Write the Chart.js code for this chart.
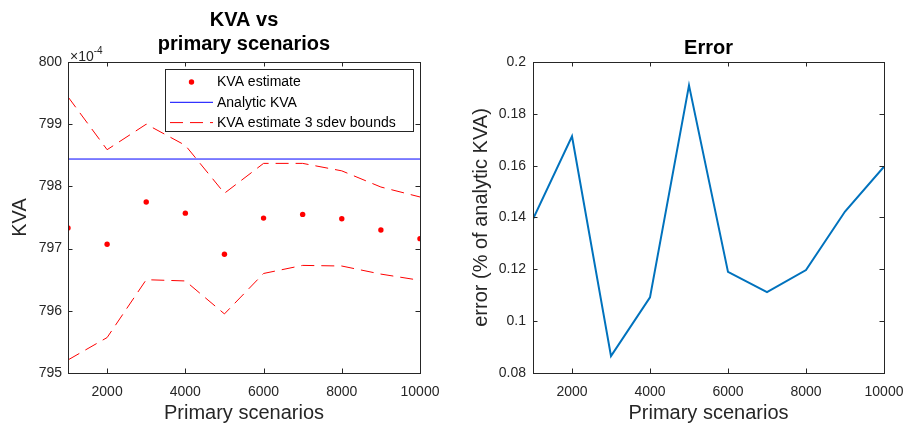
<!DOCTYPE html>
<html>
<head>
<meta charset="utf-8">
<title>KVA vs primary scenarios</title>
<script src="https://cdn.jsdelivr.net/npm/chart.js@4.4.0/dist/chart.umd.min.js"></script>
<style>
    html, body { margin: 0; padding: 0; background: #fff; }
    #wrap { position: relative; width: 905px; height: 427px; overflow: hidden; }
    .panel { position: absolute; top: 0; }
</style>
</head>
<body>
<div id="wrap">
    <div class="panel" style="left:0"><canvas id="kvaChart" width="450" height="427"></canvas></div>
    <div class="panel" style="left:450px"><canvas id="errChart" width="455" height="427"></canvas></div>
</div>
<script>
// --- data (left axis values are shown in units of 1e-4) ---
const scenarios   = [1000, 2000, 3000, 4000, 5000, 6000, 7000, 8000, 9000, 10000];
const kvaEstimate = [797.33, 797.07, 797.75, 797.57, 796.91, 797.49, 797.55, 797.48, 797.30, 797.16];
const kvaUpper    = [799.44, 798.59, 799.00, 798.66, 797.89, 798.37, 798.37, 798.25, 797.99, 797.83];
const kvaLower    = [795.21, 795.57, 796.50, 796.48, 795.95, 796.60, 796.73, 796.72, 796.59, 796.49];
const analyticKva = 798.44;
const errorPct    = [0.1394, 0.1713, 0.0865, 0.1092, 0.1910, 0.1190, 0.1112, 0.1197, 0.1423, 0.1596];

const xTickVals   = [2000, 4000, 6000, 8000, 10000];
const kvaTickVals = [795, 796, 797, 798, 799, 800];
const errTickVals = [0.08, 0.1, 0.12, 0.14, 0.16, 0.18, 0.2];

const AXIS = '#262626';
const FONT = "'Liberation Sans', Arial, Helvetica, sans-serif";
const DASH = [13, 7];
Chart.defaults.font.family = FONT;
Chart.defaults.color = AXIS;

const pts = (ys) => scenarios.map((x, i) => ({ x: x, y: ys[i] }));
const setTicks = (vals) => (scale) => { scale.ticks = vals.map(v => ({ value: v })); };

// MATLAB style box with inward ticks on all four sides
const matlabBox = {
    id: 'matlabBox',
    afterDatasetsDraw(chart) {
        const { ctx, chartArea: a, scales } = chart;
        const TL = 4.5;
        ctx.save();
        ctx.strokeStyle = AXIS;
        ctx.lineWidth = 1;
        ctx.beginPath();
        scales.x.ticks.forEach(t => {
            const px = Math.round(scales.x.getPixelForValue(t.value)) + 0.5;
            ctx.moveTo(px, a.bottom); ctx.lineTo(px, a.bottom - TL);
            ctx.moveTo(px, a.top); ctx.lineTo(px, a.top + TL);
        });
        scales.y.ticks.forEach(t => {
            const py = Math.round(scales.y.getPixelForValue(t.value)) + 0.5;
            ctx.moveTo(a.left, py); ctx.lineTo(a.left + TL, py);
            ctx.moveTo(a.right, py); ctx.lineTo(a.right - TL, py);
        });
        ctx.stroke();
        ctx.strokeRect(Math.round(a.left) + 0.5, Math.round(a.top) + 0.5,
                       Math.round(a.width), Math.round(a.height));
        ctx.restore();
    }
};

// exponent label + legend box for the left plot
const kvaExtras = {
    id: 'kvaExtras',
    afterDraw(chart) {
        const { ctx, chartArea: a } = chart;
        ctx.save();
        ctx.fillStyle = AXIS;
        ctx.textBaseline = 'alphabetic';
        ctx.textAlign = 'left';
        ctx.font = '14px ' + FONT;
        ctx.fillText('\u00d710', a.left + 2, a.top - 1);
        const w = ctx.measureText('\u00d710').width;
        ctx.font = '10px ' + FONT;
        ctx.fillText('-4', a.left + 2 + w, a.top - 8);

        // legend
        const bx = 165.5, by = 69.5, bw = 248, bh = 62;
        ctx.fillStyle = '#fff';
        ctx.fillRect(bx, by, bw, bh);
        ctx.strokeStyle = AXIS;
        ctx.lineWidth = 1;
        ctx.strokeRect(bx, by, bw, bh);

        const entries = chart.data.datasets.filter(d => d.inLegend);
        entries.forEach((d, i) => {
            const cy = 82 + i * 20.3;
            if (d.showLine) {
                ctx.save();
                ctx.strokeStyle = d.borderColor;
                ctx.lineWidth = d.borderWidth;
                ctx.setLineDash(d.borderDash || []);
                ctx.beginPath();
                ctx.moveTo(170, cy); ctx.lineTo(213, cy);
                ctx.stroke();
                ctx.restore();
            } else {
                ctx.fillStyle = d.pointBackgroundColor;
                ctx.beginPath();
                ctx.arc(191.5, cy, d.pointRadius, 0, Math.PI * 2);
                ctx.fill();
            }
            ctx.fillStyle = '#000';
            ctx.font = '14px ' + FONT;
            ctx.textBaseline = 'middle';
            ctx.fillText(d.label, 217, cy + 0.5);
        });
        ctx.restore();
    }
};

function axisX() {
    return {
        type: 'linear', position: 'bottom', min: 1000, max: 10000,
        afterBuildTicks: setTicks(xTickVals),
        afterFit: (s) => { s.height = 54; s.paddingLeft = 0; s.paddingRight = 0; },
        grid: { display: false, drawTicks: false },
        border: { display: false },
        ticks: { font: { size: 14 }, color: AXIS, padding: 10.5, maxRotation: 0, callback: (v) => String(v) },
        title: { display: true, text: 'Primary scenarios', font: { size: 20 }, color: AXIS, padding: { top: 0, bottom: 1.5 } }
    };
}

function initCharts() {
    // Chart 1: KVA estimates with bounds
    new Chart(document.getElementById('kvaChart').getContext('2d'), {
        type: 'scatter',
        data: {
            datasets: [
                {
                    label: 'KVA estimate', inLegend: true, data: pts(kvaEstimate), showLine: false,
                    pointRadius: 2.7, pointBackgroundColor: '#ff0000', pointBorderWidth: 0, borderColor: '#ff0000'
                },
                {
                    label: 'Analytic KVA', inLegend: true, showLine: true,
                    data: [{ x: scenarios[0], y: analyticKva }, { x: scenarios[scenarios.length - 1], y: analyticKva }],
                    borderColor: '#0000ff', borderWidth: 1, pointRadius: 0
                },
                {
                    label: 'KVA estimate 3 sdev bounds', inLegend: true, data: pts(kvaUpper), showLine: true,
                    borderColor: '#ff0000', borderWidth: 1, borderDash: DASH, pointRadius: 0
                },
                {
                    label: 'lower bound', inLegend: false, data: pts(kvaLower), showLine: true,
                    borderColor: '#ff0000', borderWidth: 1, borderDash: DASH, pointRadius: 0
                }
            ]
        },
        options: {
            responsive: false, animation: false, devicePixelRatio: 1,
            layout: { padding: { left: 0, right: 30, top: 0, bottom: 0 } },
            plugins: {
                legend: { display: false },
                tooltip: { enabled: false },
                title: {
                    display: true, fullSize: false, text: ['KVA vs', 'primary scenarios'], color: '#000',
                    font: { size: 20, weight: 'bold', lineHeight: 1.2 }, padding: { top: 8, bottom: 6 }
                }
            },
            scales: {
                x: axisX(),
                y: {
                    min: 795, max: 800,
                    afterBuildTicks: setTicks(kvaTickVals),
                    afterFit: (s) => { s.width = 68; },
                    grid: { display: false, drawTicks: false },
                    border: { display: false },
                    ticks: { font: { size: 14 }, color: AXIS, padding: 6, callback: (v) => String(v) },
                    title: { display: true, text: 'KVA', font: { size: 20 }, color: AXIS, padding: { top: 8.5, bottom: 0 } }
                }
            }
        },
        plugins: [matlabBox, kvaExtras]
    });

    // Chart 2: error line
    new Chart(document.getElementById('errChart').getContext('2d'), {
        type: 'scatter',
        data: {
            datasets: [{
                label: 'Error', data: pts(errorPct), showLine: true,
                borderColor: '#0072BD', borderWidth: 2, pointRadius: 0, tension: 0
            }]
        },
        options: {
            responsive: false, animation: false, devicePixelRatio: 1,
            layout: { padding: { left: 0, right: 21, top: 0, bottom: 0 } },
            plugins: {
                legend: { display: false },
                tooltip: { enabled: false },
                title: {
                    display: true, fullSize: false, text: 'Error', color: '#000',
                    font: { size: 20, weight: 'bold', lineHeight: 1.2 }, padding: { top: 36, bottom: 2 }
                }
            },
            scales: {
                x: axisX(),
                y: {
                    min: 0.08, max: 0.2,
                    afterBuildTicks: setTicks(errTickVals),
                    afterFit: (s) => { s.width = 83; },
                    grid: { display: false, drawTicks: false },
                    border: { display: false },
                    ticks: { font: { size: 14 }, color: AXIS, padding: 7, callback: (v) => String(v) },
                    title: { display: true, text: 'error (% of analytic KVA)', font: { size: 20 }, color: AXIS, padding: { top: 19, bottom: 0 } }
                }
            }
        },
        plugins: [matlabBox]
    });
}

initCharts();
</script>
</body>
</html>
